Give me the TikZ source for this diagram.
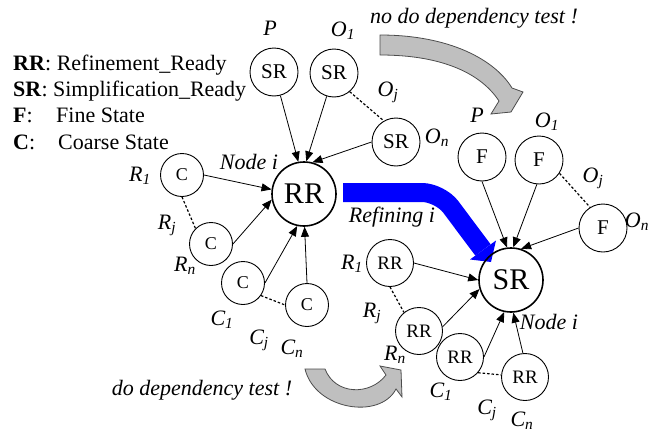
\documentclass[tikz,border=0pt]{standalone}
\usepackage{fontspec}
\setmainfont{Liberation Serif}
\usetikzlibrary{arrows.meta}
\tikzset{
 circ/.style={circle, draw, line width=0.9pt, inner sep=0pt, font=\fontsize{21}{21}\selectfont},
 srsmall/.style={circ, minimum size=48pt},
 cnode/.style={circ, minimum size=43pt, font=\fontsize{18}{18}\selectfont},
 fnode/.style={circ, minimum size=48pt},
 rrsmall/.style={circ, minimum size=47pt, font=\fontsize{19}{19}\selectfont},
 bignode/.style={circ, minimum size=64pt, line width=1.6pt, font=\fontsize{30}{30}\selectfont},
 lab/.style={font=\fontsize{22}{22}\selectfont\itshape, inner sep=0pt},
 conn/.style={line width=0.8pt, -{Triangle[length=10pt,width=8pt]}},
 dashconn/.style={line width=1.2pt, dash pattern=on 2.5pt off 2pt},
 leg/.style={font=\fontsize{22}{22}\selectfont, anchor=base west, inner sep=0pt},
 grayarrow/.style={fill=black!25, draw=black!70, line width=0.8pt},
}
\begin{document}
\begin{tikzpicture}[x=1pt,y=-1pt]
\useasboundingbox (0,0) rectangle (651,434);
% legend
\node[leg] (l1) at (13,70) {\textbf{RR}: Refinement\_Ready};
\node[leg] (l2) at (13,96) {\textbf{SR}: Simplification\_Ready};
\node[leg] (l3) at (13,122) {\textbf{F}:};
\node[leg] (l3b) at (56,122) {Fine State};
\node[leg] (l4) at (13,149) {\textbf{C}:};
\node[leg] (l4b) at (58,149) {Coarse State};

% gray arrows
\draw[grayarrow] (380,35) .. controls (450,35) and (495,60) .. (512,88) -- (523,92) -- (511,112) -- (491,114) -- (499,101) .. controls (482,75) and (445,55) .. (380,55) -- cycle;
\draw[grayarrow] (305,369) .. controls (315,410) and (380,420) .. (396,389) -- (402,397) -- (401,370) -- (380,366) -- (386,375) .. controls (370,396) and (335,395) .. (325,369) -- cycle;
\node[lab] (t1) at (474,18) {no do dependency test !};
\node[lab] (t2) at (202,390) {do dependency test !};

% blue arrow
\draw[blue, line width=19pt, rounded corners=18pt] (343,192.5) -- (440,192.5) -- (483,250);
\fill[blue] (496,240.5) -- (491,262) -- (470,259.5) -- cycle;
\node[lab] (t3) at (392,217) {Refining i};

% left graph
\node[bignode] (RRa) at (304,194) {RR};
\node[srsmall] (Pa) at (274,72) {SR};
\node[srsmall] (O1a) at (334,73) {SR};
\node[srsmall] (Ona) at (396,142) {SR};
\node[cnode] (R1a) at (182,175) {C};
\node[cnode] (Rna) at (211,244) {C};
\node[cnode] (C1a) at (243,283) {C};
\node[cnode] (Cna) at (307,305) {C};

\draw[conn] (Pa) -- (RRa.100);
\draw[conn] (O1a) -- (RRa.86);
\draw[conn] (Ona.west) -- (RRa.75);
\draw[conn] (R1a.east) -- (RRa.172);
\draw[conn] (Rna.east) -- (RRa.190);
\draw[conn] (C1a.east) -- (RRa.258);
\draw[conn] (Cna.north) -- (RRa.271);
\draw[dashconn] (O1a.-50) -- (Ona.120);
\draw[dashconn] (R1a.270) -- (Rna.135);
\draw[dashconn] (C1a.-35) -- (Cna.west);

\node[lab] (la1) at (270,28) {P};
\node[lab] (la2) at (343,31) {O\textsubscript{1}};
\node[lab] (la3) at (388,92) {O\textsubscript{j}};
\node[lab] (la4) at (437,138) {O\textsubscript{n}};
\node[lab] (la5) at (249,162) {Node i};
\node[lab] (la6) at (140,176) {R\textsubscript{1}};
\node[lab] (la7) at (167,225) {R\textsubscript{j}};
\node[lab] (la8) at (185,266) {R\textsubscript{n}};
\node[lab] (la9) at (222,320) {C\textsubscript{1}};
\node[lab] (la10) at (259,340) {C\textsubscript{j}};
\node[lab] (la11) at (292,349) {C\textsubscript{n}};

% right graph
\node[bignode] (SRb) at (511,280) {SR};
\node[fnode] (Pb) at (482,157) {F};
\node[fnode] (O1b) at (539,160) {F};
\node[fnode] (Onb) at (603,228) {F};
\node[rrsmall] (R1b) at (390,263) {RR};
\node[rrsmall] (Rnb) at (419,331) {RR};
\node[rrsmall] (C1b) at (460,357) {RR};
\node[rrsmall] (Cnb) at (525,377) {RR};

\draw[conn] (Pb.south) -- (SRb.97);
\draw[conn] (O1b.265) -- (SRb.86);
\draw[conn] (Onb.west) -- (SRb.72);
\draw[conn] (R1b.east) -- (SRb.180);
\draw[conn] (Rnb.10) -- (SRb.196);
\draw[conn] (C1b.east) -- (SRb.258);
\draw[conn] (Cnb.95) -- (SRb.274);
\draw[dashconn] (O1b.-33) -- (Onb.122);
\draw[dashconn] (R1b.270) -- (Rnb.129);
\draw[dashconn] (C1b.-41) -- (Cnb.175);

\node[lab] (lb1) at (477,115) {P};
\node[lab] (lb2) at (547,122) {O\textsubscript{1}};
\node[lab] (lb3) at (593,178) {O\textsubscript{j}};
\node[lab] (lb4) at (637,222) {O\textsubscript{n}};
\node[lab] (lb5) at (549,322) {Node i};
\node[lab] (lb6) at (352,264) {R\textsubscript{1}};
\node[lab] (lb7) at (372,313) {R\textsubscript{j}};
\node[lab] (lb8) at (395,355) {R\textsubscript{n}};
\node[lab] (lb9) at (441,392) {C\textsubscript{1}};
\node[lab] (lb10) at (487,410) {C\textsubscript{j}};
\node[lab] (lb11) at (522,421) {C\textsubscript{n}};
\end{tikzpicture}
\end{document}
